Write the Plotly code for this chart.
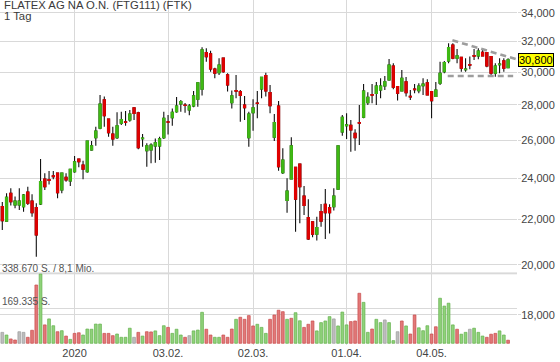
import math
import pandas as pd
import plotly.graph_objects as go

# ---------------- data ----------------
title_text = "FLATEX AG NA O.N. (FTG111) (FTK)"
period_text = "1 Tag"

holidays = ["2019-12-24", "2019-12-25", "2019-12-26", "2019-12-31", "2020-01-01",
            "2020-04-10", "2020-04-13", "2020-05-01"]
dates = [d.strftime("%Y-%m-%d") for d in pd.bdate_range("2019-12-03", "2020-05-28")
         if d.strftime("%Y-%m-%d") not in holidays]

opens = [22.61, 21.93, 23.25, 22.69, 22.69, 22.61, 23.31, 22.88, 22.56, 22.74,
         23.96, 23.94, 24.12, 24.26, 23.41, 24.05, 23.87, 24.33, 24.99, 24.68,
         24.33, 25.47, 26.14, 26.66, 28.30, 27.19, 26.34, 26.14, 26.95, 27.02,
         27.13, 27.83, 27.55, 26.08, 25.43, 25.47, 25.69, 25.69, 26.14, 27.03,
         27.26, 27.61, 28.06, 28.00, 27.71, 27.94, 28.34, 28.94, 31.26, 31.18,
         30.20, 29.97, 30.91, 29.83, 28.14, 28.86, 28.80, 28.00, 26.14, 27.55,
         28.12, 28.96, 29.79, 28.74, 26.16, 27.94, 24.28, 22.90, 23.96, 24.56,
         24.73, 23.12, 22.10, 21.90, 21.33, 22.37, 22.72, 22.56, 22.61, 23.45,
         26.46, 26.81, 26.83, 26.38, 26.98, 27.29, 28.14, 28.62, 28.69, 28.90,
         29.14, 29.51, 30.39, 29.10, 28.84, 29.40, 28.52, 28.96, 28.86, 29.16,
         29.34, 28.80, 28.50, 29.31, 30.03, 30.72, 31.76, 30.89, 30.95, 30.16,
         30.48, 31.07, 31.05, 31.29, 31.26, 31.00, 29.93, 30.48, 30.72, 30.29]
highs = [22.83, 23.26, 23.50, 23.09, 23.50, 23.22, 23.58, 23.20, 22.77, 24.99,
         24.25, 24.37, 24.37, 24.28, 24.29, 24.25, 24.47, 25.15, 25.02, 24.90,
         25.98, 25.96, 26.75, 28.60, 28.50, 27.22, 26.75, 27.57, 27.60, 27.65,
         27.71, 27.86, 27.61, 26.34, 25.83, 25.83, 26.10, 26.19, 27.61, 27.41,
         27.79, 28.48, 28.30, 28.12, 28.06, 28.84, 29.36, 31.62, 31.55, 31.39,
         30.28, 30.89, 30.94, 29.93, 28.86, 29.83, 28.90, 28.54, 27.61, 28.34,
         28.84, 29.70, 29.97, 29.20, 27.47, 28.24, 25.56, 24.00, 26.16, 24.58,
         24.75, 23.61, 22.96, 21.91, 22.13, 22.74, 23.46, 22.72, 23.50, 25.70,
         27.42, 27.51, 27.13, 26.60, 28.00, 29.26, 28.76, 29.26, 29.39, 29.62,
         29.76, 30.85, 30.57, 29.11, 30.14, 29.70, 28.90, 29.26, 29.31, 29.62,
         29.55, 28.81, 29.39, 30.67, 30.72, 31.89, 31.89, 31.50, 30.96, 30.89,
         31.00, 31.50, 31.55, 31.55, 31.27, 31.01, 30.57, 30.89, 30.89, 30.89]
lows = [21.52, 21.90, 22.66, 22.53, 22.45, 22.37, 22.69, 22.13, 20.35, 22.69,
        23.41, 23.69, 23.95, 23.01, 23.25, 23.82, 23.61, 24.28, 24.56, 23.95,
        24.28, 25.43, 25.70, 26.60, 26.75, 26.19, 25.70, 26.07, 26.85, 26.80,
        27.03, 27.13, 25.51, 25.65, 24.59, 24.77, 24.80, 24.94, 26.07, 26.32,
        26.80, 27.55, 27.61, 27.55, 27.40, 27.87, 27.90, 28.56, 30.67, 30.03,
        29.62, 29.83, 29.97, 28.80, 27.79, 28.40, 27.03, 27.13, 25.65, 26.52,
        27.23, 28.40, 28.50, 27.51, 25.96, 24.38, 24.21, 22.32, 23.96, 21.44,
        21.83, 22.21, 21.08, 21.20, 21.05, 21.67, 21.12, 21.37, 22.42, 23.41,
        26.24, 26.07, 25.38, 25.43, 25.74, 27.23, 28.00, 28.10, 28.00, 28.40,
        28.90, 29.47, 28.94, 28.26, 28.80, 28.50, 28.30, 28.70, 28.70, 28.60,
        28.56, 27.23, 28.49, 29.20, 29.93, 30.57, 30.82, 30.57, 30.03, 30.03,
        30.18, 30.78, 30.82, 31.00, 30.31, 29.72, 29.72, 29.93, 30.03, 30.25]
closes = [21.95, 23.06, 22.85, 22.88, 22.88, 23.17, 22.77, 22.32, 21.30, 23.83,
          23.58, 23.89, 24.08, 23.28, 24.26, 23.91, 24.46, 24.85, 24.85, 24.46,
          25.96, 25.70, 26.51, 28.06, 27.37, 26.41, 26.07, 26.80, 27.15, 26.99,
          27.47, 27.51, 25.59, 26.12, 25.70, 25.74, 25.86, 26.07, 27.23, 27.00,
          27.57, 27.94, 28.20, 27.97, 27.94, 28.54, 29.34, 31.44, 31.00, 30.20,
          29.93, 30.46, 30.03, 29.20, 28.54, 28.82, 28.56, 27.84, 27.47, 27.84,
          28.09, 29.68, 28.84, 27.96, 26.98, 24.59, 24.94, 23.36, 25.69, 22.96,
          23.58, 22.66, 21.12, 21.33, 21.64, 21.93, 22.32, 22.32, 23.12, 25.69,
          27.29, 26.85, 26.56, 26.14, 26.95, 28.84, 28.46, 28.58, 29.14, 29.14,
          29.40, 30.46, 29.06, 28.70, 29.62, 28.74, 28.48, 28.92, 29.14, 29.26,
          28.60, 28.26, 28.90, 29.93, 30.61, 31.60, 30.89, 31.06, 30.25, 30.20,
          30.44, 31.03, 31.37, 31.05, 30.39, 29.93, 30.39, 30.52, 30.25, 30.80]
volumes = [53000, 40000, 21000, 16000, 56000, 53000, 29000, 63000, 282000, 335000,
           89000, 118000, 85000, 56000, 61000, 35000, 19000, 48000, 51000, 40000,
           69000, 68000, 93000, 93000, 48000, 48000, 37000, 45000, 29000, 29000,
           73000, 29000, 53000, 35000, 56000, 55000, 60000, 37000, 85000, 77000,
           48000, 68000, 40000, 29000, 37000, 60000, 64000, 150000, 68000, 40000,
           29000, 29000, 40000, 29000, 69000, 116000, 126000, 116000, 134000, 84000,
           92000, 77000, 48000, 116000, 137000, 160000, 153000, 116000, 121000, 148000,
           109000, 77000, 92000, 108000, 60000, 100000, 108000, 129000, 118000, 84000,
           151000, 89000, 105000, 108000, 242000, 198000, 53000, 69000, 116000, 100000,
           113000, 100000, 13000, 56000, 108000, 84000, 45000, 137000, 75000, 61000,
           85000, 45000, 80000, 218000, 180000, 194000, 89000, 68000, 44000, 53000,
           68000, 73000, 53000, 35000, 29000, 44000, 48000, 60000, 40000, 15000]
# u = up, d = down, n = unchanged (volume bar colour)
volume_dir = list("nuddnnddduduudududduuuuudddu"
                  "uuundudduuuduuudnuuuddu"
                  "udddudddduuudddduduuddd"
                  "uuuunuuuddduuduun"
                  "uundudduuudduuuuduunuuudddu"
                  "udu")[:120]

price_ticks = [18, 20, 22, 24, 26, 28, 30, 32, 34]
price_tick_text = ["18,000", "20,000", "22,000", "24,000", "26,000",
                   "28,000", "30,000", "32,000", "34,000"]
volume_ticks = [169335, 338670]
volume_tick_text = ["169.335 S.", "338.670 S. / 8,1 Mio."]
x_tick_dates = ["2020-01-02", "2020-02-03", "2020-03-02", "2020-04-01", "2020-05-04"]
x_tick_text = ["2020", "03.02.", "02.03.", "01.04.", "04.05."]
last_price = 30.80
last_price_text = "30,800"
# trend lines: (candle index, price)
trend_upper_x = [105.9, 120.9]
trend_upper_y = [32.08, 30.83]
trend_lower_x = [104.8, 120.2]
trend_lower_y = [29.76, 29.76]

# ---------------- styles ----------------
FONT = "Liberation Sans, Arial, sans-serif"
GRID = "#d9d9d9"
UP = "#3fba14"
DOWN = "#e00000"
VOL_FILL = {"u": "#8fd27a", "d": "#e27878", "n": "#bdbdbd"}
VOL_LINE = {"u": "#63b04c", "d": "#c94a4a", "n": "#9c9c9c"}
X_RANGE = [-0.54, 121.1]

vol_dir = (volume_dir + ["n"] * 120)[:len(dates)]

fig = go.Figure()

fig.add_trace(go.Bar(
    x=dates, y=volumes, yaxis="y2",
    marker=dict(color=[VOL_FILL[d] for d in vol_dir],
                line=dict(color=[VOL_LINE[d] for d in vol_dir], width=0.7)),
    hoverinfo="skip", showlegend=False))

# black wicks
fig.add_trace(go.Candlestick(
    x=dates, open=opens, high=highs, low=lows, close=closes,
    increasing=dict(line=dict(color="#111111", width=1.1), fillcolor="#111111"),
    decreasing=dict(line=dict(color="#111111", width=1.1), fillcolor="#111111"),
    whiskerwidth=0, hoverinfo="skip", showlegend=False))

# coloured bodies
body_hi = [max(o, c) for o, c in zip(opens, closes)]
body_lo = [min(o, c) for o, c in zip(opens, closes)]
fig.add_trace(go.Candlestick(
    x=dates, open=opens, high=body_hi, low=body_lo, close=closes,
    increasing=dict(line=dict(color=UP, width=1.1), fillcolor=UP),
    decreasing=dict(line=dict(color=DOWN, width=1.1), fillcolor=DOWN),
    whiskerwidth=0, hoverinfo="skip", showlegend=False))

# dashed trend lines (on a hidden linear x axis aligned with the candle index)
for tx, ty in ((trend_upper_x, trend_upper_y), (trend_lower_x, trend_lower_y)):
    fig.add_trace(go.Scatter(
        x=tx, y=ty, xaxis="x2", yaxis="y", mode="lines",
        line=dict(color="#9d9d9d", width=2.6, dash="6px,4px"),
        hoverinfo="skip", showlegend=False, cliponaxis=False))

shapes = [
    dict(type="line", xref="paper", x0=0, x1=1, yref="y2",
         y0=volume_ticks[1], y1=volume_ticks[1],
         line=dict(color="#e8e8e8", width=2.5), layer="below"),
]

PLOT_H = 345.0
annotations = [
    dict(text=title_text, xref="paper", yref="paper", x=2 / 517, y=1 - 5.5 / PLOT_H,
         xanchor="left", yanchor="middle", showarrow=False,
         font=dict(family=FONT, size=11.3, color="#3a3a3a")),
    dict(text=period_text, xref="paper", yref="paper", x=2 / 517, y=1 - 16.5 / PLOT_H,
         xanchor="left", yanchor="middle", showarrow=False,
         font=dict(family=FONT, size=11.3, color="#3a3a3a")),
    dict(text=volume_tick_text[1], xref="paper", yref="y2", x=0, y=volume_ticks[1],
         xanchor="left", yanchor="bottom", yshift=-3, showarrow=False,
         font=dict(family=FONT, size=10, color="#555555")),
    dict(text=volume_tick_text[0], xref="paper", yref="y2", x=0, y=volume_ticks[0],
         xanchor="left", yanchor="bottom", yshift=-1, showarrow=False,
         font=dict(family=FONT, size=10, color="#555555")),
    dict(text=last_price_text, xref="paper", yref="y", x=1.002, y=math.log10(last_price),
         xanchor="left", yanchor="middle", showarrow=False,
         bgcolor="#ffff00", bordercolor="#000000", borderwidth=1, borderpad=0,
         font=dict(family=FONT, size=11, color="#000000")),
]

fig.update_layout(
    width=560, height=362,
    margin=dict(l=0, r=43, t=0, b=17, autoexpand=False),
    paper_bgcolor="white", plot_bgcolor="white",
    showlegend=False, bargap=0.35, boxgap=0.3,
    font=dict(family=FONT, size=11, color="#444444"),
    xaxis=dict(type="category", categoryorder="array", categoryarray=dates,
               range=X_RANGE, tickvals=x_tick_dates, ticktext=x_tick_text,
               showgrid=True, gridcolor=GRID, gridwidth=1.3, ticks="",
               ticklabelstandoff=0, automargin=False,
               showline=False, zeroline=False, rangeslider=dict(visible=False),
               tickfont=dict(family=FONT, size=11, color="#444444"), fixedrange=True),
    xaxis2=dict(overlaying="x", range=X_RANGE, visible=False, fixedrange=True),
    yaxis=dict(type="log", range=[1.22784, 1.54308], side="right",
               tickvals=price_ticks, ticktext=price_tick_text, automargin=False,
               showgrid=True, gridcolor=GRID, gridwidth=1, ticks="outside",
               ticklen=3, tickcolor=GRID, ticklabelstandoff=-2,
               showline=False, zeroline=False,
               tickfont=dict(family=FONT, size=11, color="#444444"), fixedrange=True),
    yaxis2=dict(overlaying="y", range=[-8225, 1660900], tickvals=volume_ticks,
                showticklabels=False, showgrid=True, gridcolor=GRID, gridwidth=1,
                zeroline=False, showline=False, fixedrange=True),
    shapes=shapes, annotations=annotations,
)

fig.write_html("out.html", config={"displayModeBar": False},
               post_script="document.body.style.margin='0px';"
                           "document.body.style.overflow='hidden';")
